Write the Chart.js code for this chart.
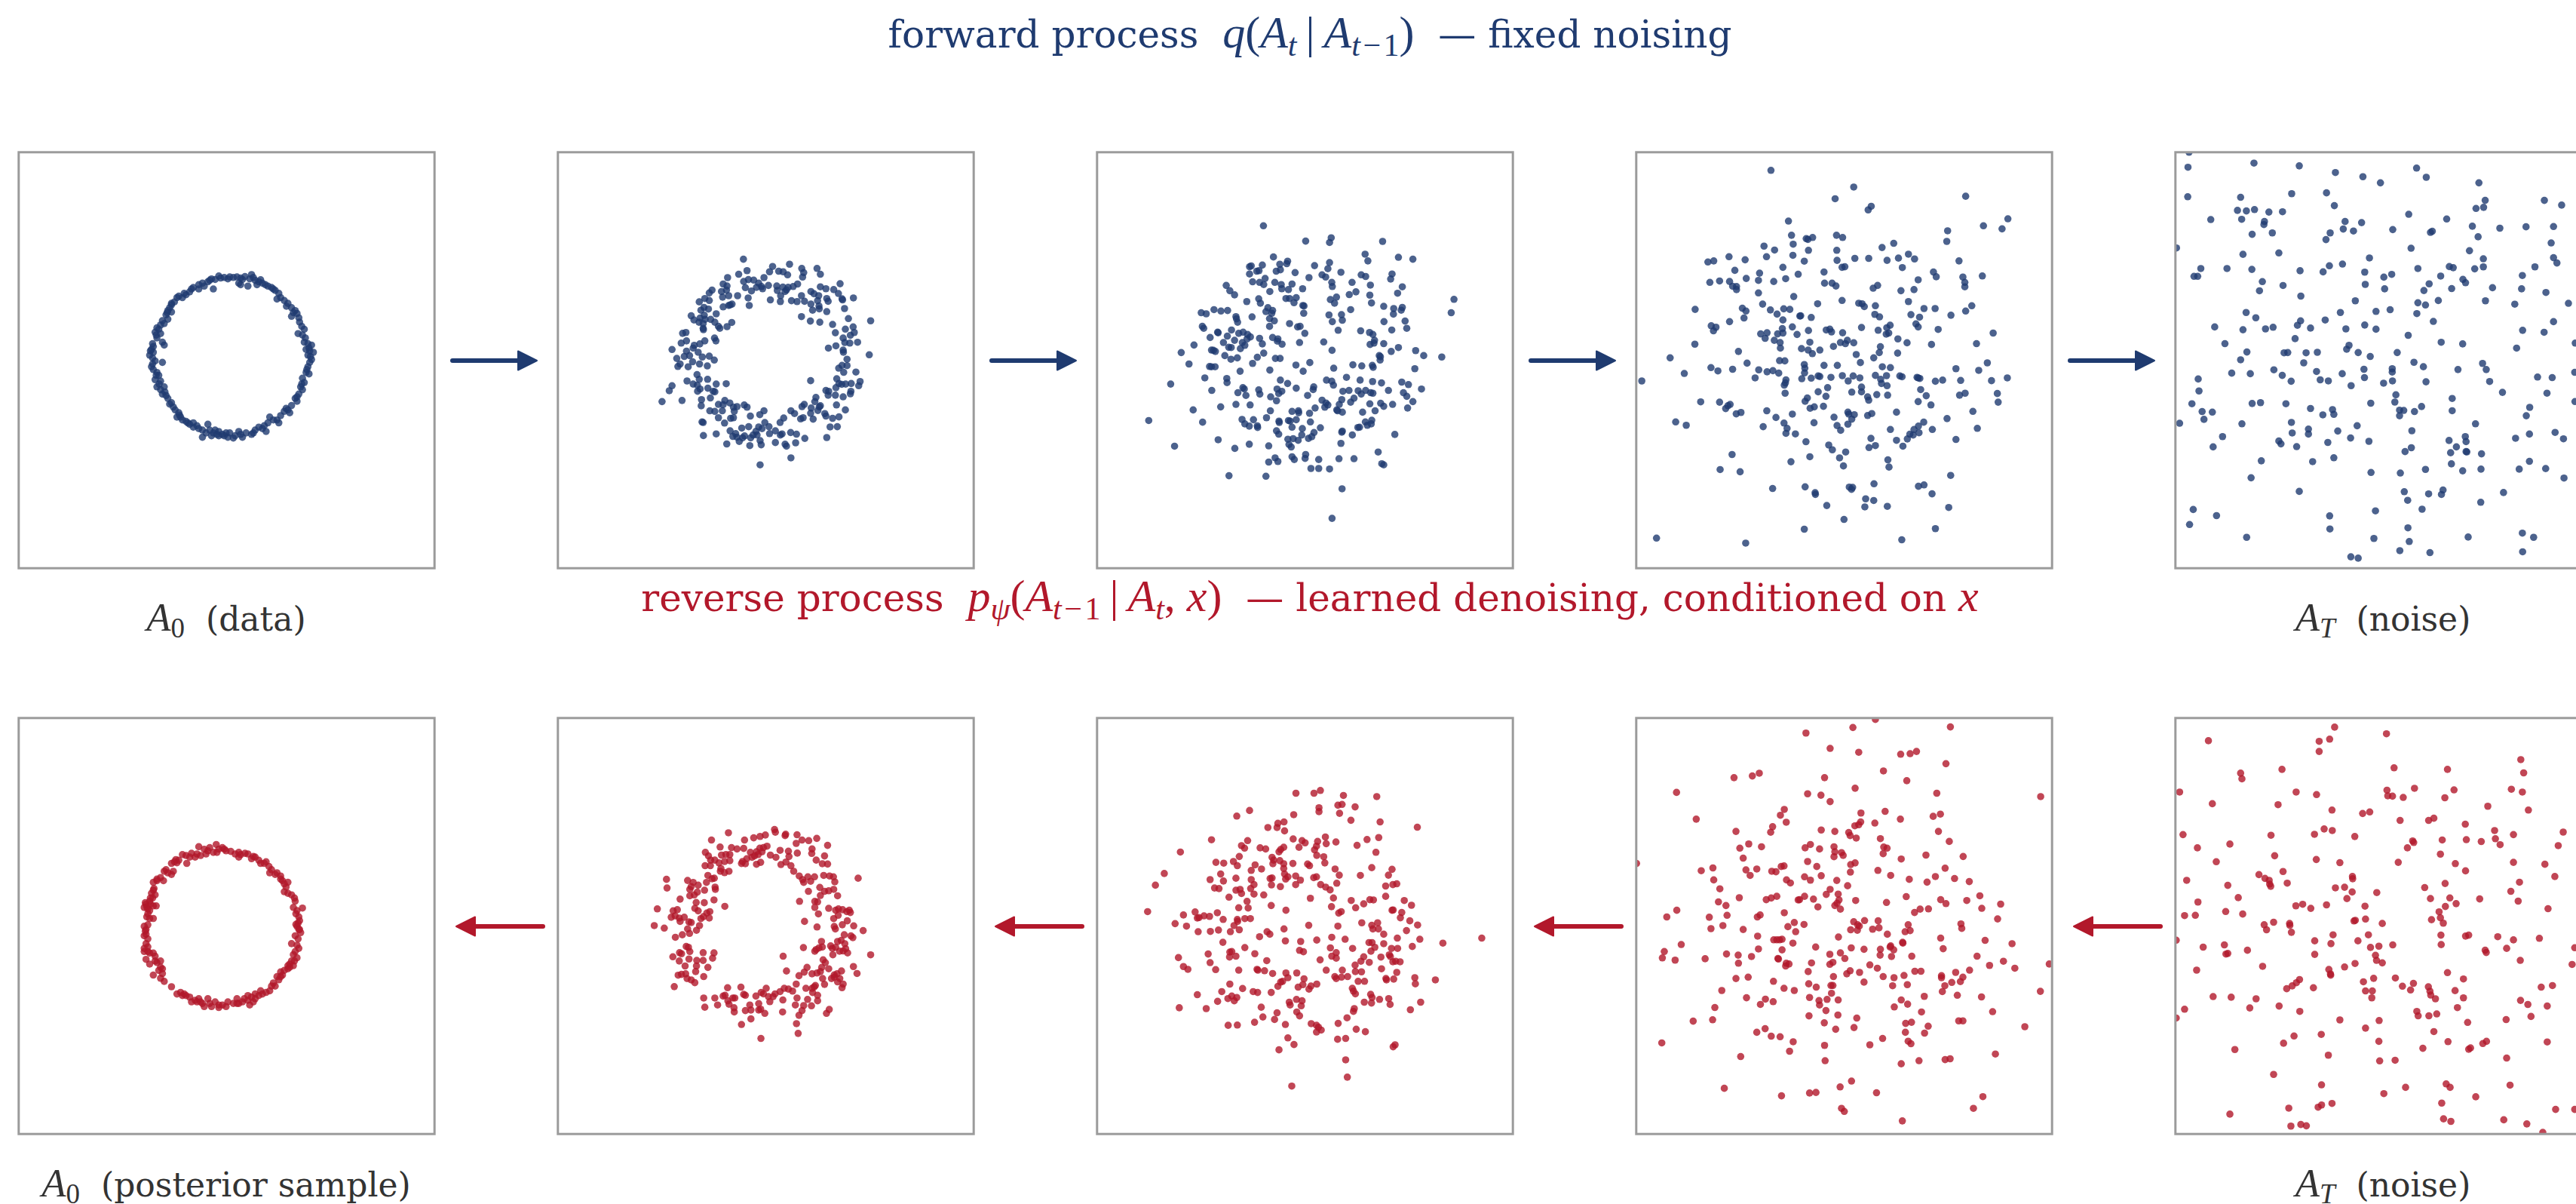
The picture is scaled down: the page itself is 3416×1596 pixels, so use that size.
<!DOCTYPE html>
<html><head><meta charset="utf-8">
<script src="https://cdn.jsdelivr.net/npm/chart.js@4.4.1/dist/chart.umd.min.js"></script>
<style>
html,body{margin:0;padding:0;background:#fff;}
body{width:3416px;height:1596px;overflow:hidden;position:relative;}
.txt{position:absolute;white-space:nowrap;font-family:'DejaVu Serif',serif;line-height:1;transform:translateX(-50%);}
.m{font-family:'Liberation Serif',serif;font-style:italic;font-size:1.2em;line-height:0;}
.m .u{font-style:normal;}
.sb{font-size:70%;position:relative;top:0.25em;}
canvas{position:absolute;}
svg{position:absolute;left:0;top:0;}
</style></head><body>
<div class="txt" style="left:1737px;top:21px;font-size:50px;color:#1f3b70">forward process&nbsp;&nbsp;<span class="m">q<span class="u">(</span>A<span class="sb">t</span><span class="u">&#8201;|&#8201;</span>A<span class="sb">t<span class="u">&#8202;−&#8202;1</span></span><span class="u">)</span></span>&nbsp;&nbsp;— fixed noising</div>
<div class="txt" style="left:1737px;top:768px;font-size:50px;color:#b2182b">reverse process&nbsp;&nbsp;<span class="m">p<span class="sb">ψ</span><span class="u">(</span>A<span class="sb">t<span class="u">&#8202;−&#8202;1</span></span><span class="u">&#8201;|&#8201;</span>A<span class="sb">t</span><span class="u">,</span> x<span class="u">)</span></span>&nbsp;&nbsp;— learned denoising, conditioned on <span class="m">x</span></div>
<div class="txt" style="left:300px;top:799px;font-size:44px;color:#333"><span class="m">A<span class="sb u">0</span></span>&nbsp;&nbsp;(data)</div>
<div class="txt" style="left:3160px;top:799px;font-size:44px;color:#333"><span class="m">A<span class="sb">T</span></span>&nbsp;&nbsp;(noise)</div>
<div class="txt" style="left:300px;top:1549px;font-size:44px;color:#333"><span class="m">A<span class="sb u">0</span></span>&nbsp;&nbsp;(posterior sample)</div>
<div class="txt" style="left:3160px;top:1549px;font-size:44px;color:#333"><span class="m">A<span class="sb">T</span></span>&nbsp;&nbsp;(noise)</div>
<svg id="arrows" width="3416" height="1596"></svg>
<script>
// ---- data: point positions, per panel (x, y pairs) ----
const fwdStep0 = [600,485,615,490,625,495,640,490,650,488,660,492,672,487,690,480,685,495,700,500,710,505,720,510,705,515,680,520,660,515,655,510,580,495,570,505,585,530,560,520,545,515,530,525,520,540,510,550,500,560,545,530,590,497,
735,520,745,525,755,535,765,545,770,560,760,565,780,570,790,580,800,595,810,605,815,615,820,630,800,625,828,660,835,670,818,685,830,690,
485,560,478,575,470,585,465,595,460,605,470,610,455,620,460,635,450,650,440,655,430,665,425,680,440,685,430,700,445,715,450,725,420,730,
415,740,420,750,410,760,418,770,425,780,445,785,415,800,420,810,430,820,435,830,425,845,440,850,430,870,440,880,450,870,445,895,455,900,460,910,465,930,475,940,480,950,490,960,485,975,495,975,500,985,
835,715,845,720,855,725,840,740,850,745,860,750,845,760,855,775,850,785,845,800,840,820,848,825,830,840,835,855,825,870,830,880,820,895,810,910,815,920,800,935,790,950,780,955,795,960,770,970,760,985,765,995,740,975,
510,990,520,1000,530,995,530,1010,545,1015,555,1020,570,1000,575,1020,585,1030,590,1020,600,1025,610,1035,620,1030,625,1045,630,1030,645,1040,655,1025,665,1045,675,1030,690,1035,700,1020,710,1010,720,1015,730,1025,735,995,555,1045,580,1040,600,1040,
605,492,630,488,665,497,695,490,715,498,728,515,750,530,786,590,805,612,822,645,838,700,848,735,852,765,842,810,828,860,815,905,785,945,750,985,725,1005,695,1030,660,1035,640,1048,615,1040,595,1035,565,1030,540,1005,515,995,492,968,470,925,452,888,436,860,428,830,418,790,412,745,418,720,428,690,435,670,445,640,458,612,470,580,490,555,505,545,525,530,555,510,575,500];

const fwdStep1 = [693,414,798,440,859,432,903,447,958,447,
706,455,676,468,787,459,820,457,836,459,852,470,910,462,906,478,970,468,
636,480,767,480,694,494,711,487,730,489,748,500,758,512,740,515,700,516,722,528,762,520,783,508,813,510,835,514,854,515,872,512,888,503,815,526,843,530,848,524,827,545,1041,502,970,513,990,520,1018,523,1035,537,
620,503,634,510,580,525,570,535,614,530,632,525,640,545,672,545,618,550,554,555,534,567,570,562,551,587,567,593,540,597,620,585,595,610,640,580,652,575,645,578,
710,553,714,580,790,560,826,566,866,563,886,566,902,545,913,565,936,530,947,538,964,545,960,563,993,555,998,565,936,575,965,582,942,597,966,592,993,602,1048,556,1050,560,1089,553,1057,591,
505,617,515,632,537,625,552,615,533,640,555,630,575,630,590,640,548,645,603,655,608,662,634,656,651,641,548,662,902,620,934,636,968,640,1014,648,1071,627,1151,635,
474,680,486,677,469,715,488,707,549,667,589,697,594,707,516,723,554,707,536,718,1024,678,1060,665,1088,657,1078,687,1092,677,1052,697,1058,713,1076,715,1104,712,
436,738,488,744,512,733,499,760,480,763,453,770,465,790,457,799,494,800,510,782,530,748,535,790,545,765,570,762,588,776,563,797,999,733,1026,725,1052,740,1053,748,1066,773,1146,757,
1036,805,1054,820,1066,796,1048,795,1098,819,
526,828,534,845,564,845,490,851,512,862,527,866,595,862,631,861,935,850,1029,843,1037,860,1047,863,1061,862,1081,860,1113,853,1108,868,
436,868,426,886,400,925,472,921,528,888,537,880,565,877,584,888,590,890,574,912,542,918,541,940,990,885,1000,888,998,902,1026,875,1024,902,1052,908,1080,888,1078,897,
603,935,626,921,620,936,644,930,657,945,670,943,696,937,706,945,572,958,590,960,617,958,660,960,954,910,950,925,912,935,904,943,937,948,970,940,966,944,935,967,961,957,1028,937,1060,955,986,968,
752,972,767,958,718,977,864,958,877,968,899,987,908,983,944,988,990,977,1014,985,1037,980,1005,1016,1031,1015,603,983,625,1002,647,985,657,983,544,998,548,1000,595,1041,549,1047,
645,1030,655,1050,665,1040,687,1020,712,1015,738,1032,748,1016,770,1000,760,1022,742,1045,728,1045,785,1015,787,1040,808,1030,825,1000,838,984,832,1041,863,1036,884,1042,826,1045,
670,1053,690,1055,697,1048,719,1055,716,1083,753,1065,757,1080,808,1072,843,1078,848,1085,881,1073,914,1057,993,1054,633,1077,678,1068,
864,1127,753,1152];

const fwdStep2 = [624,294,776,349,868,337,862,354,1053,350,
660,406,990,396,1000,420,1110,407,1162,414,
574,441,580,438,620,435,600,457,574,467,608,455,683,432,711,421,708,430,670,457,685,452,738,462,808,437,862,426,856,448,903,461,835,470,848,478,976,470,992,476,1087,467,1082,485,788,480,
585,495,610,497,630,483,625,505,665,497,688,505,690,520,714,523,727,503,765,520,647,530,490,508,503,527,520,542,870,497,872,512,943,497,1009,507,1124,513,1107,536,933,541,957,531,
564,566,607,556,613,572,705,555,718,555,742,552,734,570,766,580,770,582,769,608,865,559,887,550,880,572,1007,543,1013,571,1310,558,1057,583,1093,591,1124,587,1120,597,1092,611,938,595,905,613,908,633,860,614,872,638,1300,606,1134,636,1140,662,1058,638,1086,668,
400,606,418,610,446,595,471,600,495,598,525,620,527,628,531,640,583,621,640,588,633,602,657,598,654,608,646,627,663,635,718,645,747,657,756,655,646,655,773,680,893,669,974,671,1006,677,1018,684,1024,705,1008,720,1022,715,1057,717,1110,731,1084,745,
404,655,409,662,432,695,459,676,461,678,494,690,509,668,520,705,535,680,551,676,567,684,565,700,577,693,548,713,557,723,541,735,610,698,620,718,657,695,676,700,674,708,691,719,754,713,841,711,871,741,
374,722,328,749,356,790,437,740,444,741,451,745,480,713,485,760,499,730,508,731,507,773,530,768,602,766,625,751,667,770,684,770,585,788,741,794,767,816,791,785,877,805,946,793,978,797,1016,795,1019,802,1041,760,1044,776,1045,764,1172,742,1201,760,1266,765,1169,807,
430,799,437,800,450,800,540,816,647,812,413,840,492,842,493,857,290,862,438,885,685,848,711,860,742,877,805,872,803,882,851,848,870,852,876,866,923,838,972,848,1017,853,1049,858,1122,855,1146,864,1193,880,
550,875,555,880,532,893,561,903,607,883,611,898,650,908,673,880,679,896,690,888,671,922,783,903,835,920,849,930,856,937,888,955,910,888,932,885,965,886,992,885,1010,893,1018,895,1074,885,1128,893,1140,906,1162,925,1143,948,906,918,897,935,938,927,950,913,976,898,
470,944,525,935,576,937,371,955,649,958,727,960,750,958,751,965,790,967,810,948,845,945,891,958,908,963,981,963,1007,933,1026,958,1046,931,1057,942,1089,935,
211,993,405,999,547,989,557,1005,588,990,573,1013,603,1018,602,1012,635,983,680,995,681,1000,714,993,720,995,742,990,793,998,727,1017,764,1022,829,1019,908,1031,906,1035,944,1045,964,1018,970,1017,991,998,998,1010,1014,992,1012,1005,
304,1085,461,1062,521,1093,573,1078,643,1084,671,1030,679,1042,712,1060,731,1058,716,1079,724,1088,749,1064,762,1045,786,1057,798,1051,806,1036,903,1075,1097,1043,
500,1191,633,1193,643,1142,666,1127,676,1140,727,1123,735,1133,774,1129,776,1115,795,1165,823,1133,823,1165,862,1167,896,1130,950,1130,1037,1106,1050,1148,1057,1152,
907,1238,871,1344];

const fwdStep3 = [510,95,808,155,741,197,1211,188,871,224,860,237,573,277,1363,269,1275,294,1342,305,1146,312,1143,350,
584,328,637,340,643,343,660,336,746,328,768,336,590,360,645,382,747,382,952,357,910,372,485,367,523,381,494,405,589,400,630,421,359,405,417,416,283,424,304,420,812,411,862,411,928,418,969,410,1005,396,1027,413,1187,420,
748,418,766,443,776,441,553,443,380,454,469,464,608,468,701,460,983,444,1095,460,1105,477,1201,478,1271,474,1208,497,1208,513,
290,497,325,492,361,494,372,511,386,512,386,523,421,483,465,490,520,494,563,484,703,500,730,500,744,510,878,518,894,508,978,527,1025,523,1040,488,
465,535,592,548,766,562,678,574,480,575,826,572,838,574,846,584,886,581,1005,566,1061,591,1101,591,1233,581,1211,600,1158,615,237,594,407,590,420,600,413,625,508,596,532,611,556,592,578,594,614,618,617,617,655,623,553,632,884,612,901,621,1014,613,1045,622,1032,646,1040,657,
295,653,312,658,303,671,361,638,473,682,496,678,489,698,534,682,551,663,553,679,587,657,604,684,645,670,709,668,722,665,728,675,768,678,836,659,896,669,927,660,939,651,925,683,934,679,1112,666,1310,679,
236,719,522,705,543,713,544,733,620,735,650,712,644,740,659,753,686,740,735,727,760,713,778,717,785,705,808,714,967,700,1000,714,1088,720,1250,717,904,728,900,749,966,751,
147,768,393,745,424,787,541,778,560,779,630,792,632,805,701,795,749,795,817,756,832,785,880,768,911,800,940,803,1289,786,1176,807,1258,813,
45,851,198,824,294,803,319,815,372,809,466,811,496,818,517,814,538,823,453,840,564,847,562,858,558,866,621,843,631,822,655,841,680,833,686,835,726,838,767,832,788,851,806,833,830,840,886,831,905,845,926,832,908,860,928,868,974,833,982,836,1040,840,1036,838,1046,842,1102,852,1128,848,1193,849,1304,850,1361,840,
561,895,680,890,714,875,708,906,801,891,836,873,836,890,858,908,862,920,891,900,930,902,1049,882,1069,904,1189,902,1209,895,1325,896,1328,927,
257,926,325,927,347,950,355,940,363,935,385,969,402,964,495,958,528,982,587,970,633,924,641,912,651,949,666,944,699,942,737,981,787,963,790,970,801,988,810,972,858,975,873,968,962,963,1040,925,1086,937,1237,960,
167,998,205,1010,482,1015,557,1002,568,1021,564,1039,598,1041,665,1001,748,1011,761,1028,787,1006,940,1025,1060,999,1041,1013,1025,1025,1043,1037,1022,1045,1010,1042,1001,1059,1091,1025,1144,986,1253,1021,
636,1069,718,1081,731,1098,779,1106,757,1127,771,1156,863,1090,870,1057,886,1083,931,1134,935,1160,962,1064,985,1085,1176,1061,
370,1115,327,1169,399,1177,582,1141,650,1123,1157,1190,
516,1237,633,1231,669,1252,670,1258,792,1232,800,1240,804,1233,881,1220,1041,1229,1061,1224,1090,1256,711,1298,851,1274,848,1303,880,1280,929,1301,1150,1305,
773,1348,630,1383,1102,1381,98,1415,419,1433,981,1421];

const fwdStep4 = [92,30,88,84,340,69,513,79,651,103,756,118,823,140,961,87,998,120,1199,140,
87,190,289,192,484,179,617,176,647,222,1449,203,1515,220,1223,203,1188,232,1217,228,
277,239,311,241,342,236,397,245,449,244,175,272,293,271,380,279,378,290,931,253,1076,270,688,279,751,283,681,306,720,313,870,308,1174,296,1279,303,1379,298,1484,297,1014,318,1021,314,
333,325,410,320,631,320,615,344,1196,334,1475,356,44,374,940,375,1163,384,435,392,298,397,781,410,1216,413,1484,409,1497,428,
137,448,111,476,125,476,237,448,332,451,516,456,604,460,628,438,678,432,763,461,966,448,1086,441,1101,445,1183,449,1216,442,1413,442,1365,473,
372,495,361,528,451,509,519,547,765,505,836,479,866,469,839,521,1009,503,989,527,1053,475,1138,487,1148,499,1095,520,1251,517,1362,521,1455,534,
727,564,966,571,995,579,1044,563,1224,564,1336,576,1541,573,
310,606,347,625,518,636,506,652,556,662,612,633,670,606,806,602,860,596,962,610,1025,638,190,658,298,668,384,665,413,659,691,665,763,651,806,666,1484,639,1366,670,1448,677,929,688,
229,718,497,700,703,724,694,738,738,750,784,764,887,750,1055,713,1137,719,1343,734,1567,716,313,748,289,776,455,751,469,750,539,751,582,749,530,787,
255,824,326,826,416,812,448,832,482,853,579,818,593,848,624,852,677,826,711,869,760,810,762,840,835,860,868,808,868,820,869,852,951,785,987,801,997,855,1119,811,1213,789,1227,811,1240,854,1423,838,1479,840,1565,821,1289,893,1459,896,
127,845,130,888,103,934,142,962,181,964,149,990,56,1004,333,933,365,930,462,934,556,951,603,974,640,955,645,972,786,932,882,902,878,928,896,957,896,977,912,958,953,962,980,944,1097,915,1097,959,1393,947,1380,977,1566,926,
294,1006,483,1001,548,1025,486,1039,548,1043,660,1032,734,1013,220,1052,184,1089,435,1068,443,1078,503,1088,622,1073,709,1057,779,1069,943,1031,941,1092,917,1106,1186,1006,1085,1066,1113,1089,1147,1052,1150,1070,1150,1106,1153,1107,1091,1110,1209,1114,1339,1058,1392,1043,1490,1037,1522,1060,
368,1139,564,1142,645,1128,329,1200,787,1181,899,1183,995,1170,1094,1150,1137,1175,1207,1169,1353,1169,1392,1141,1454,1167,1524,1201,
513,1249,914,1250,927,1281,1007,1258,1056,1260,1062,1244,1206,1288,1293,1253,982,1313,108,1314,197,1336,94,1368,629,1337,804,1319,312,1414,630,1384,798,1418,928,1380,933,1429,1158,1413,1365,1399,1408,1414,710,1484,738,1489,897,1462,1012,1469,1366,1466];

const revStep0 = [545,437,560,445,575,440,593,430,600,445,610,440,620,450,633,452,645,460,660,462,672,458,655,470,680,460,540,460,535,470,550,465,565,460,585,455,595,455,510,465,520,470,500,462,512,490,490,480,478,485,470,490,485,488,
690,475,700,470,710,480,715,490,730,485,738,500,745,510,740,520,760,520,770,530,775,545,790,550,780,555,770,540,780,580,790,585,808,600,810,610,805,630,830,632,812,650,820,660,818,680,815,690,820,700,810,720,825,710,
450,515,460,520,475,515,470,525,440,535,430,545,420,550,448,545,422,570,415,585,425,590,418,600,410,610,400,620,395,630,405,635,420,625,428,625,410,640,405,650,420,665,410,665,
395,690,400,700,405,685,400,715,395,720,405,730,400,745,395,760,395,770,405,770,410,775,420,775,425,785,400,795,410,810,430,805,440,800,440,820,435,830,445,825,420,845,440,855,450,865,470,882,
800,745,815,750,820,760,810,770,805,780,815,790,800,800,795,810,805,815,790,825,780,830,770,835,775,845,760,850,765,860,750,870,755,880,740,895,730,900,720,905,715,895,710,910,700,905,
485,905,495,900,505,905,510,910,520,915,525,930,535,925,545,920,540,930,555,935,560,945,570,920,575,935,580,945,590,930,600,948,610,940,620,945,625,930,640,935,650,920,655,935,665,930,680,925,685,940,695,930,690,915,700,920,680,910,670,920,
398,615,412,620,402,628,822,672,812,684,790,815,795,820,
430,540,455,510,482,478,525,458,570,450,615,445,655,455,695,468,725,490,755,525,785,565,800,590,815,640,822,700,818,730,808,800,770,850,745,880,650,935,600,940,550,930,500,910,445,840,425,800,405,755,398,705,402,660,412,600,420,575];

const revStep1 = [805,430,808,440,845,447,843,452,886,449,957,462,639,442,578,468,697,468,730,460,753,455,772,450,904,468,883,480,928,470,996,487,
609,493,650,495,670,500,694,498,718,512,740,510,752,497,765,495,778,490,760,510,746,520,733,525,724,530,705,535,690,545,686,552,700,553,740,555,755,548,790,522,810,530,825,505,855,508,887,515,857,527,846,547,828,556,864,560,874,580,940,500,939,516,985,525,955,540,977,553,996,554,
556,512,567,525,575,540,590,540,614,522,630,520,644,520,605,550,625,545,644,542,555,560,574,560,612,570,610,580,625,585,641,580,565,595,580,607,560,620,553,648,530,630,512,620,492,613,505,635,500,645,516,665,500,668,527,655,588,605,591,637,592,645,
894,597,906,610,925,600,949,600,982,595,1003,597,1017,600,1022,618,910,620,935,616,968,638,985,652,1000,650,1018,645,1032,668,927,652,895,688,950,688,960,690,970,667,950,710,963,733,1000,713,1106,605,
416,609,418,640,465,680,523,692,552,693,518,713,530,722,561,730,572,725,587,683,626,706,383,715,440,722,455,718,433,745,447,740,462,748,465,760,480,745,497,762,505,764,540,750,549,743,535,775,570,748,372,775,408,784,448,817,473,808,492,787,499,803,524,792,
1025,720,1035,715,1050,718,1065,725,1074,720,1078,728,1034,738,1018,750,1049,772,1067,758,1090,776,1020,778,1024,787,1124,793,913,760,958,780,1056,808,1080,812,1087,818,1045,828,1032,832,1058,840,974,832,1007,848,1013,857,1025,853,1061,858,1052,866,1068,873,1039,867,1015,880,
487,850,495,853,500,868,463,872,470,876,439,887,462,902,497,895,483,920,525,900,548,872,587,873,582,892,548,900,524,920,521,940,565,925,458,953,470,950,485,948,490,965,505,970,518,980,550,958,444,994,
909,854,955,861,965,855,977,852,950,867,836,885,848,938,1151,880,1089,922,1102,947,980,898,988,908,975,925,1000,930,1020,952,1030,948,1046,938,1010,965,1020,960,1040,965,1032,977,1052,985,1048,998,922,925,912,942,893,955,940,948,958,945,970,940,978,965,985,986,
636,998,684,996,694,1022,700,1025,738,1028,757,1015,775,1000,765,1020,783,1030,800,1030,788,1048,807,1020,825,1012,840,1000,855,1003,870,1010,883,985,918,1000,940,1000,948,995,952,990,942,1015,960,1025,960,1045,938,1063,910,1062,924,1040,886,1035,835,1042,834,1085,
550,1035,590,1035,620,1028,627,1025,637,1045,655,1035,662,1035,554,1068,600,1060,641,1057,659,1070,660,1085,700,1080,716,1060,720,1078,720,1110,748,1055,748,1078,755,1075,770,1090,686,1130,756,1180,880,1060,904,1080,893,1097,884,1127,890,1162,992,1090,1002,1076];

const revStep2 = [741,300,806,300,829,290,912,308,1032,312,824,352,824,366,892,343,907,340,898,372,954,349,939,397,1044,403,1178,422,574,362,528,382,733,377,640,423,676,408,673,423,698,403,700,435,
437,467,325,511,267,588,235,630,207,725,
545,488,556,497,567,470,612,496,632,500,537,527,655,530,661,540,680,510,686,502,697,494,731,464,752,494,763,470,774,478,819,473,847,457,850,481,815,490,808,503,816,523,841,528,845,550,885,475,961,487,997,466,1039,459,1029,512,
453,548,481,551,516,545,530,560,470,590,480,615,432,610,525,605,448,640,464,642,525,648,540,645,545,660,580,577,594,557,617,572,580,610,590,628,578,642,590,662,625,665,658,553,683,542,697,553,697,570,730,552,700,590,712,600,704,608,655,604,648,606,653,629,685,635,740,597,740,628,757,612,783,554,790,560,805,603,815,600,830,628,848,637,864,647,882,572,897,594,888,623,973,595,1014,567,1087,573,1074,594,1064,633,1090,628,1104,625,
500,673,565,688,569,712,535,711,652,703,705,720,793,677,876,676,869,707,895,730,904,725,940,685,956,711,985,697,1007,682,1020,683,1064,670,1131,685,1157,702,1087,720,1091,719,1122,728,1117,747,1151,758,1179,773,
306,768,336,737,347,777,378,726,386,748,392,746,410,740,430,742,458,729,479,753,462,791,433,796,389,797,505,797,518,775,531,760,530,753,537,790,557,750,577,750,637,797,647,806,610,815,698,787,703,830,758,832,787,774,816,827,870,817,892,777,918,824,978,765,1014,774,1018,787,1035,765,1038,787,1057,806,1139,793,1106,820,1187,824,1270,838,1410,820,
478,835,425,877,432,908,452,933,318,890,336,922,352,932,503,870,510,868,502,888,525,885,535,935,557,854,593,876,601,932,604,935,628,937,636,901,657,947,754,864,768,869,828,898,865,855,870,885,886,872,886,892,945,857,1004,836,1015,836,1025,853,1011,867,1057,840,1085,857,1107,857,1160,850,985,887,975,903,1005,907,1047,888,1077,880,1081,886,1090,905,1100,903,1116,905,
850,935,908,935,881,958,886,965,905,960,927,958,954,917,955,940,977,941,965,975,988,975,1049,930,1065,965,1067,970,1093,967,1104,943,1169,962,1171,984,1243,970,
386,1023,321,1070,418,1073,459,1047,474,1012,496,1037,503,985,510,1028,519,1045,528,1033,549,1001,587,1012,603,1015,652,1015,676,993,686,978,693,975,705,945,712,962,744,945,770,966,749,996,766,987,788,1003,795,992,816,985,717,1050,720,1060,743,1040,763,1045,760,1063,
616,1068,622,1103,664,1112,673,1088,703,1130,744,1085,754,1099,497,1133,530,1132,592,1122,796,1127,815,1133,822,1140,832,1150,815,1157,893,1126,891,1183,920,1180,958,1147,991,1156,925,1106,948,1083,951,1073,944,1000,948,1010,955,1020,1010,1022,1015,1033,1013,1053,987,1050,1042,1040,1075,1037,1080,1058,1153,1077,1190,1050,
712,1178,734,1202,680,1221,1091,1210,1098,1203,920,1257,926,1319,726,1351];

const revStep3 = [886,35,805,64,1156,62,636,84,723,139,826,153,977,160,1011,158,1034,150,1140,194,915,220,703,244,999,255,377,244,443,238,468,228,170,297,642,302,690,307,723,330,813,282,1107,300,1481,312,
241,393,558,358,544,379,565,404,834,371,921,365,976,393,1094,383,1120,375,884,407,833,403,826,413,812,417,516,420,509,440,384,437,691,432,740,437,790,441,795,452,817,461,1113,437,904,463,1152,473,
398,497,430,482,476,492,410,533,633,496,652,484,685,500,737,492,740,510,764,513,770,523,737,528,916,493,928,497,914,517,979,536,1068,522,1202,527,642,545,675,563,797,556,813,550,796,583,26,552,
259,578,301,568,304,611,326,643,420,575,435,595,459,572,513,580,528,582,547,563,557,561,566,611,580,622,631,600,652,612,691,596,747,613,786,632,895,577,941,595,1008,609,1072,619,1102,599,1137,569,1171,606,1224,617,
321,690,348,703,352,738,396,675,288,745,294,786,337,775,135,744,171,720,493,682,511,676,531,670,608,683,613,682,631,670,663,680,679,708,709,663,723,645,752,662,755,683,748,695,740,703,760,716,815,685,926,692,997,671,1027,728,1047,716,1077,715,1121,682,1140,696,1215,685,1262,668,1269,713,1337,698,1326,751,
461,744,471,737,558,729,571,779,594,764,599,797,629,771,410,789,462,813,520,826,531,826,541,826,550,824,589,838,753,816,808,761,822,772,828,777,821,792,797,790,847,757,876,788,896,758,899,783,929,806,1004,772,1011,793,993,797,1194,769,1197,785,1121,820,1281,828,
187,843,126,868,119,891,165,899,273,894,350,877,392,881,393,910,440,886,465,859,550,862,535,893,537,895,565,910,575,913,563,920,656,909,671,852,722,878,760,873,733,907,722,914,776,893,799,855,845,860,866,916,893,928,904,860,903,881,941,848,939,852,952,862,944,886,984,835,985,838,1017,885,1130,858,1252,885,1297,918,1347,903,1378,840,1388,928,1512,913,
384,965,428,960,519,975,557,1000,594,1008,644,940,646,984,673,996,735,958,726,990,733,990,783,948,795,937,829,943,845,978,914,958,953,962,948,991,989,954,1001,987,1028,939,1050,939,1124,955,1124,962,1136,991,1161,979,1175,943,1201,960,1192,976,1225,935,1127,1012,1181,1025,
333,1008,422,1034,472,1058,490,1039,518,1048,649,1033,683,1044,685,1060,712,1040,728,1018,752,1042,708,1080,979,1042,1002,1057,954,1067,1062,1029,1052,1085,1268,1031,1308,1084,1480,1011,
308,1069,230,1118,300,1113,647,1099,751,1096,702,1124,743,1147,819,1107,809,1141,995,1126,1016,1122,994,1158,1076,1136,1063,1161,1186,1117,1201,1117,1424,1138,
117,1196,459,1158,489,1145,511,1172,543,1174,590,1192,577,1226,703,1205,705,1260,866,1203,912,1180,1004,1190,1014,1199,979,1271,1043,1260,1137,1256,1155,1253,1318,1236,401,1245,
342,1359,548,1386,649,1376,672,1374,759,1354,800,1333,890,1375,764,1431,774,1442,983,1476,1239,1431,1273,1389];

const revStep4 = [166,100,289,203,294,221,447,191,589,102,629,95,648,57,589,134,846,78,875,186,1079,191,1359,160,1370,202,
56,263,181,300,432,303,501,263,579,271,638,320,755,331,782,326,848,257,851,275,869,276,910,280,953,251,1069,281,1104,256,1233,308,1323,254,1365,263,1388,320,
69,398,124,440,248,428,405,400,419,465,571,397,608,380,639,385,725,404,898,353,1007,353,1027,346,1147,365,926,440,946,418,950,423,1059,415,1151,414,1208,420,1259,385,1262,411,1280,430,1331,398,1521,390,1502,433,1052,460,
196,484,578,477,668,487,891,486,1109,490,1148,513,1331,486,1451,492,1489,531,
83,543,240,559,359,525,382,537,398,543,400,555,404,562,451,515,467,552,716,531,717,538,651,567,686,565,715,580,695,601,809,582,992,566,1070,553,1014,601,1088,599,1112,617,1071,626,1202,602,1321,578,1354,549,1349,609,
126,612,75,655,116,654,232,642,280,598,297,650,500,624,526,619,557,632,617,621,764,625,766,666,722,672,727,670,830,680,1047,643,1018,668,1052,662,1063,679,1463,633,
379,684,388,700,415,676,476,680,477,686,483,708,43,733,146,755,227,748,233,777,240,775,315,765,572,735,634,744,642,716,737,735,777,716,785,756,817,752,870,748,804,781,808,797,830,805,1054,717,1055,747,1148,720,1160,717,1223,765,1227,772,1271,722,1305,759,1331,732,1357,797,1430,727,1565,757,1555,810,
121,828,373,816,572,778,626,826,633,844,632,840,686,818,726,807,758,865,766,894,792,894,797,854,790,916,880,853,907,879,938,891,949,870,1006,881,1012,895,1015,907,1033,919,1079,836,1108,893,1140,856,1140,916,1437,882,1480,877,
184,912,253,914,348,919,324,948,75,952,43,980,436,942,465,887,486,878,502,868,514,858,567,884,515,959,668,986,766,1012,818,988,962,959,967,973,1008,973,1038,967,1117,947,1156,994,1303,985,1358,924,1386,937,1398,975,1460,942,
267,1080,453,1060,493,1037,597,1032,624,1098,817,1054,820,1116,879,1114,985,1076,1027,1023,1081,1055,1160,1079,1167,1075,1214,1061,1228,1054,1305,1107,1460,1056,
415,1159,598,1192,836,1220,919,1200,1074,1189,1089,1200,1187,1230,1318,1193,248,1285,473,1266,585,1263,598,1256,638,1251,1057,1250,1064,1300,1092,1308,1294,1303,1382,1316,1492,1270,1565,1270,481,1323,519,1318,540,1322,1443,1343];

// panel labels (rendered as text above)
const panelNames = ['A_0 (data)','t1','t2','t3','A_T (noise)','A_0 (posterior sample)','r1','r2','r3','A_T (noise)'];

// ---- layout / styles ----
const LEFT0 = 24, PITCH = 715, SIZE = 553, ROW_TOP = [201, 951], PAD = 4;
const BLUE = '#1f3b70', RED = '#b2182b';
const BLUE_DOT = 'rgba(31,59,112,0.8)', RED_DOT = 'rgba(178,24,43,0.8)';
// axis limits of each panel in the reading units
const panels = [
  {d: fwdStep0, row:0, col:0, c:BLUE_DOT, xr:[50,1193], yr:[55,1500]},
  {d: fwdStep1, row:0, col:1, c:BLUE_DOT, xr:[25,1522], yr:[30,1523]},
  {d: fwdStep2, row:0, col:2, c:BLUE_DOT, xr:[25,1522], yr:[30,1523]},
  {d: fwdStep3, row:0, col:3, c:BLUE_DOT, xr:[25,1522], yr:[30,1523]},
  {d: fwdStep4, row:0, col:4, c:BLUE_DOT, xr:[40,1628], yr:[30,1525]},
  {d: revStep0, row:1, col:0, c:RED_DOT, xr:[50,1193], yr:[28,1350]},
  {d: revStep1, row:1, col:1, c:RED_DOT, xr:[25,1522], yr:[30,1523]},
  {d: revStep2, row:1, col:2, c:RED_DOT, xr:[25,1522], yr:[30,1523]},
  {d: revStep3, row:1, col:3, c:RED_DOT, xr:[25,1522], yr:[30,1523]},
  {d: revStep4, row:1, col:4, c:RED_DOT, xr:[40,1628], yr:[28,1348]}
];

function pairs(a){ const out=[]; for(let i=0;i+1<a.length;i+=2) out.push({x:a[i], y:a[i+1]}); return out; }

const framePlugin = {
  id:'frame',
  afterDraw(chart){
    const {ctx, chartArea:a} = chart;
    ctx.save(); ctx.strokeStyle='#9b9b9b'; ctx.lineWidth=3;
    ctx.strokeRect(a.left, a.top, a.right-a.left, a.bottom-a.top);
    ctx.restore();
  }
};

panels.forEach((p,i)=>{
  const cv = document.createElement('canvas');
  const W = SIZE + 2*PAD;
  cv.width = W; cv.height = W;
  cv.style.width = W+'px'; cv.style.height = W+'px';
  cv.style.left = (LEFT0 + PITCH*p.col - PAD) + 'px';
  cv.style.top = (ROW_TOP[p.row] - PAD) + 'px';
  document.body.appendChild(cv);
  new Chart(cv, {
    type:'scatter',
    data:{datasets:[{label: panelNames[i], data: pairs(p.d), backgroundColor:p.c, borderWidth:0,
      pointRadius:4.8, pointHoverRadius:4.8, pointBorderWidth:0, clip:0}]},
    options:{
      responsive:false, animation:false, devicePixelRatio:1, events:[],
      layout:{padding:PAD},
      plugins:{legend:{display:false}, tooltip:{enabled:false}, title:{display:false}},
      scales:{
        x:{type:'linear', display:false, min:p.xr[0], max:p.xr[1]},
        y:{type:'linear', display:false, min:p.yr[0], max:p.yr[1], reverse:true}
      }
    },
    plugins:[framePlugin]
  });
});

// arrows between panels
const svg = document.getElementById('arrows');
const NS = 'http://www.w3.org/2000/svg';
function el(tag, attrs){ const e=document.createElementNS(NS, tag); for(const k in attrs) e.setAttribute(k, attrs[k]); svg.appendChild(e); }
for(let k=0;k<4;k++){
  const R = LEFT0 + SIZE + PITCH*k;
  // forward (right-pointing)
  let y = 478, tip = R+135, tail = R+23;
  el('line',{x1:tail,y1:y,x2:tip-20,y2:y,stroke:BLUE,'stroke-width':6,'stroke-linecap':'round'});
  el('polygon',{points:`${tip},${y} ${tip-25},${y-12.5} ${tip-25},${y+12.5}`,fill:BLUE,stroke:BLUE,'stroke-width':2,'stroke-linejoin':'round'});
  // reverse (left-pointing)
  y = 1228; tip = R+28; tail = R+143;
  el('line',{x1:tail,y1:y,x2:tip+20,y2:y,stroke:RED,'stroke-width':6,'stroke-linecap':'round'});
  el('polygon',{points:`${tip},${y} ${tip+25},${y-12.5} ${tip+25},${y+12.5}`,fill:RED,stroke:RED,'stroke-width':2,'stroke-linejoin':'round'});
}
</script>
</body></html>
